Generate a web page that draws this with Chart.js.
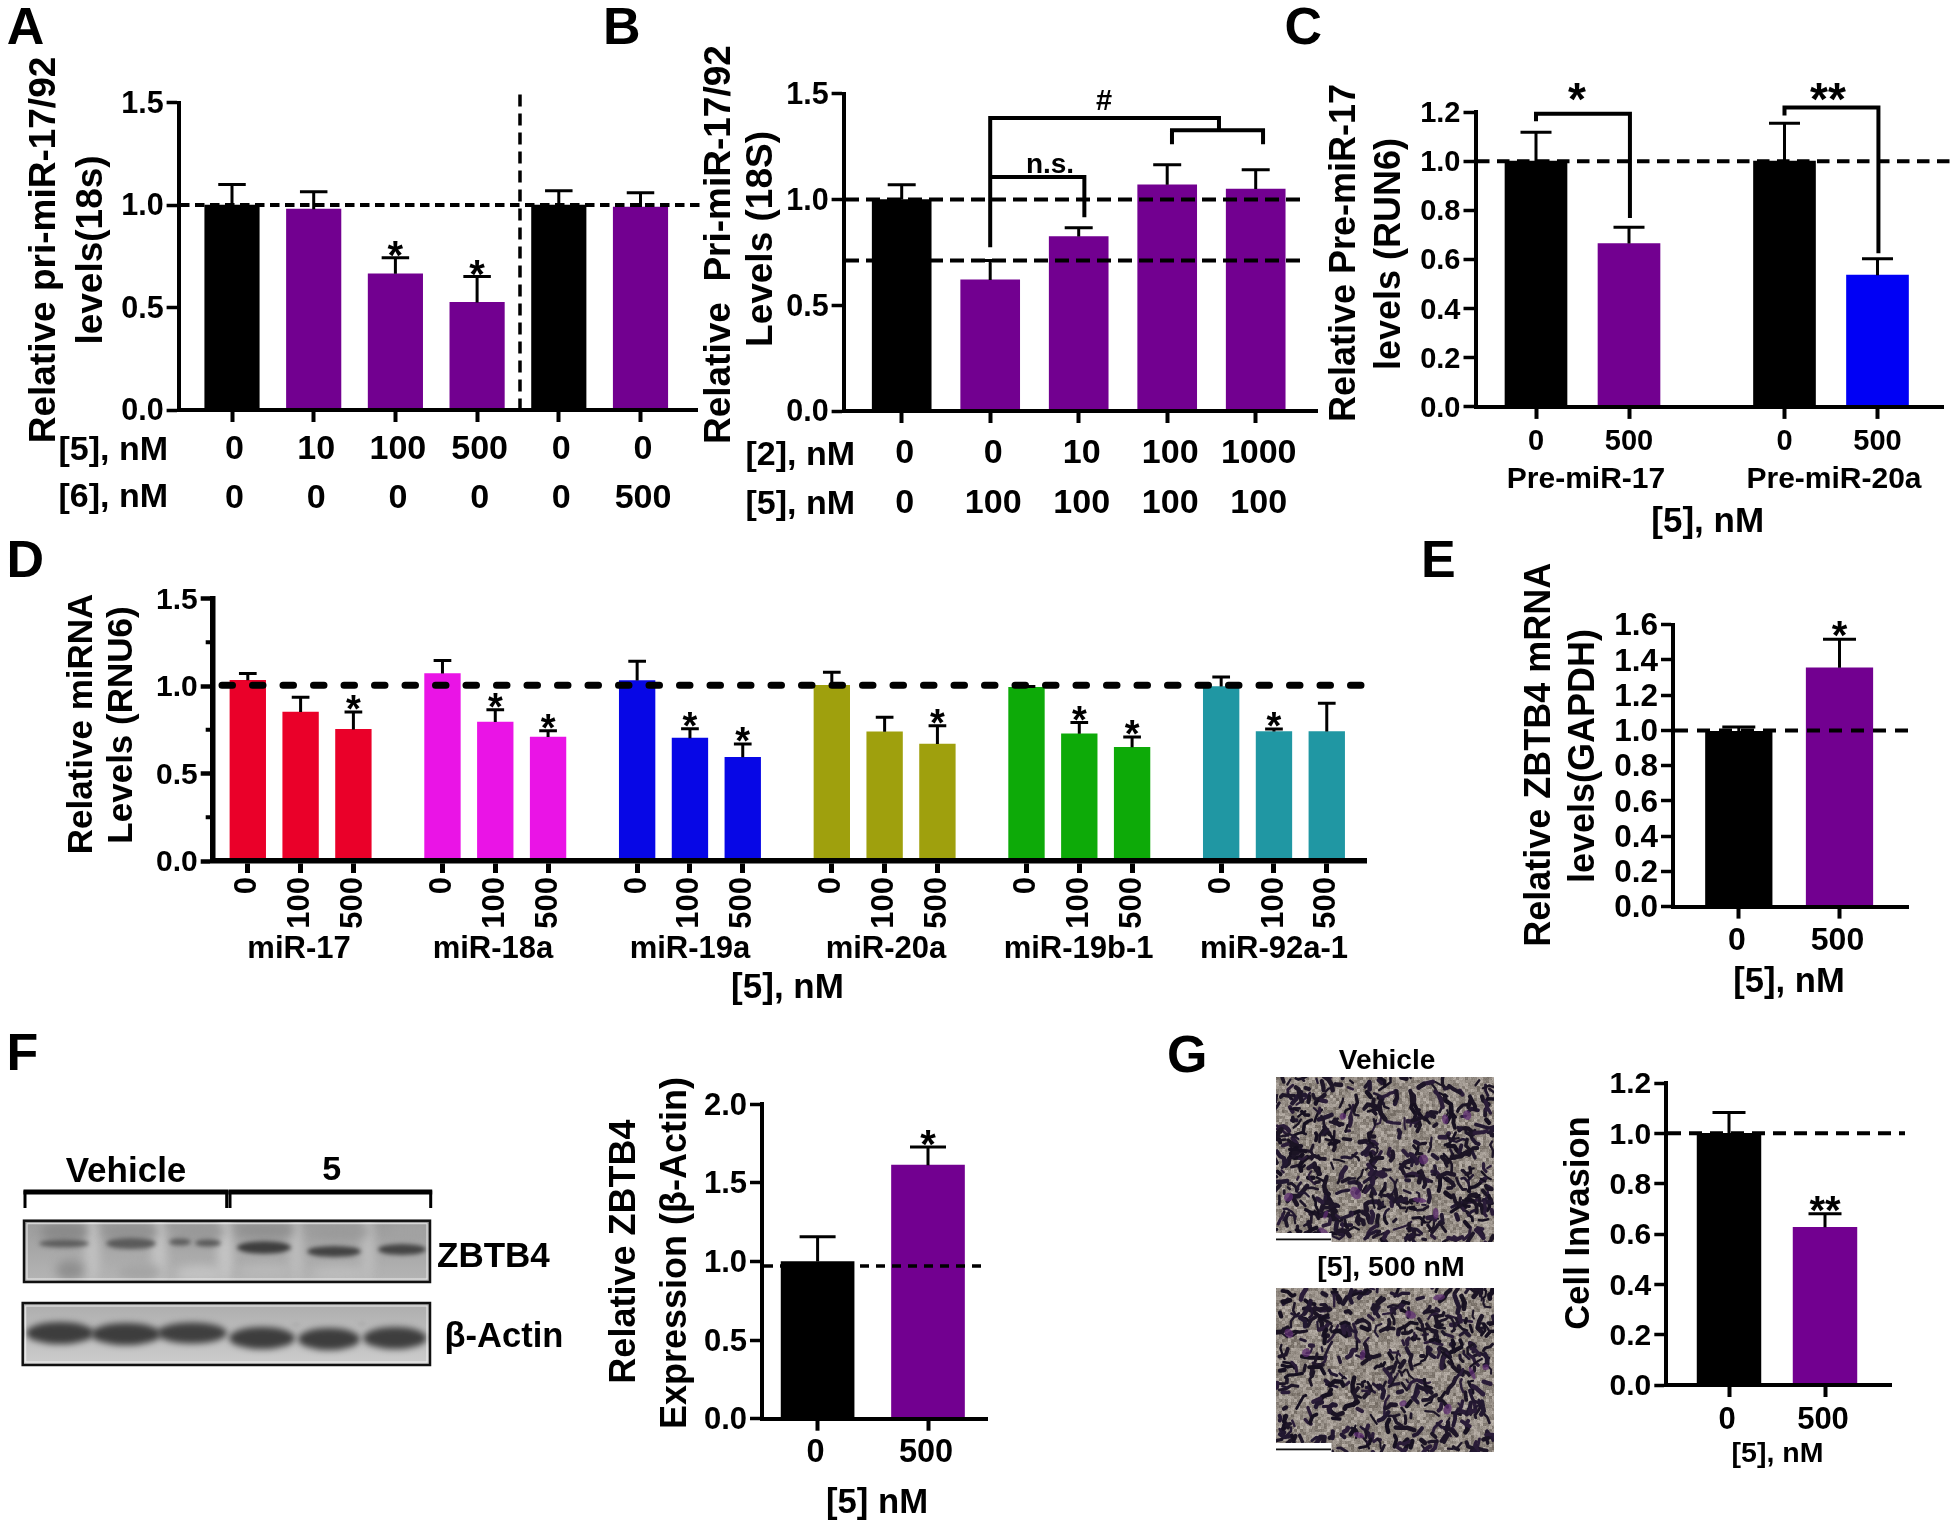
<!DOCTYPE html>
<html><head><meta charset="utf-8">
<style>
html,body{margin:0;padding:0;background:#fff;width:1950px;height:1527px;overflow:hidden}
canvas{position:absolute;left:0;top:0}
</style>
<script src="https://cdn.jsdelivr.net/npm/chart.js@4"></script>
</head><body>
<canvas id="art" width="1950" height="1527"></canvas>
<script>
/* ---------- data ---------- */
const aRow5 = ['0','10','100','500','0','0'];
const aRow6 = ['0','0','0','0','0','500'];
const aValues = [1.0,0.98,0.665,0.525,1.0,0.99];
const aErrors = [1.10,1.065,0.743,0.652,1.07,1.06];

const bRow2 = ['0','0','10','100','1000'];
const bRow5 = ['0','100','100','100','100'];
const bValues = [1.0,0.62,0.825,1.07,1.05];
const bErrors = [1.07,0.712,0.867,1.164,1.141];

const cLabels = ['0','500','0','500'];
const cGroups = ['Pre-miR-17','Pre-miR-20a'];
const cValues = [1.0,0.665,1.0,0.536];
const cErrors = [1.118,0.731,1.154,0.603];

const dLabels = ['0','100','500','0','100','500','0','100','500','0','100','500','0','100','500','0','100','500'];
const dGroups = ['miR-17','miR-18a','miR-19a','miR-20a','miR-19b-1','miR-92a-1'];
const dValues = [1.033,0.851,0.752, 1.071,0.794,0.708, 1.031,0.702,0.593, 1.004,0.738,0.668, 0.993,0.727,0.650, 0.997,0.740,0.740];
const dErrors = [1.071,0.936,0.851, 1.146,0.865,0.744, 1.142,0.756,0.668, 1.079,0.821,0.773, 0.997,0.792,0.708, 1.052,0.754,0.901];
const dMinorTicks = [0.25,0.75,1.25];

const eLabels = ['0','500'];
const eValues = [0.995,1.355];
const eErrors = [1.02,1.518];

const fLabels = ['0','500'];
const fValues = [1.0,1.613];
const fErrors = [1.157,1.728];

const gLabels = ['0','500'];
const gValues = [1.0,0.627];
const gErrors = [1.083,0.68];

/* ---------- styling ---------- */
const PURPLE='#720090', BLACK='#000000', BLUE='#0000F5';
const FONT='"Liberation Sans", Arial, sans-serif';
Chart.defaults.font.family=FONT;
Chart.defaults.color='#000';
const PAGE_W=1950, PAGE_H=1527;

/* overlay plugin: error bars, dashed reference lines, brackets, marks, free text */
const overlay={
  id:'overlay',
  afterDraw(chart,args,o){
    const ctx=chart.ctx, X=chart.scales.x, Y=chart.scales.y;
    ctx.save();
    ctx.lineCap='butt'; ctx.strokeStyle='#000'; ctx.fillStyle='#000';
    // minor ticks
    if(o.minor){
      ctx.lineWidth=o.minor.w;
      o.minor.values.forEach(v=>{
        const py=Y.getPixelForValue(v);
        ctx.beginPath(); ctx.moveTo(X.left-o.minor.len,py); ctx.lineTo(X.left,py); ctx.stroke();
      });
    }
    // reference lines
    (o.dashes||[]).forEach(d=>{
      ctx.save();
      ctx.lineWidth=d.w; ctx.setLineDash(d.dash); ctx.lineCap=d.cap||'butt';
      ctx.beginPath();
      if(d.vx!==undefined){
        const px=X.getPixelForValue(d.vx);
        ctx.moveTo(px,Y.getPixelForValue(d.from)); ctx.lineTo(px,Y.getPixelForValue(d.to));
      }else{
        const py=Y.getPixelForValue(d.y);
        ctx.moveTo(d.x0,py); ctx.lineTo(d.x1,py);
      }
      ctx.stroke(); ctx.restore();
    });
    // error bars
    const e=o.errors;
    if(e){
      ctx.lineWidth=e.w;
      e.tops.forEach((t,i)=>{
        const px=X.getPixelForValue(e.xs[i]);
        ctx.beginPath();
        ctx.moveTo(px,Y.getPixelForValue(e.vals[i])); ctx.lineTo(px,Y.getPixelForValue(t));
        ctx.moveTo(px-e.cap/2,Y.getPixelForValue(t)); ctx.lineTo(px+e.cap/2,Y.getPixelForValue(t));
        ctx.stroke();
      });
    }
    // brackets
    (o.brackets||[]).forEach(b=>{
      ctx.lineWidth=o.bracketW||4; ctx.lineJoin='miter';
      ctx.beginPath();
      b.forEach((p,i)=>{
        const px=X.getPixelForValue(p[0]),py=Y.getPixelForValue(p[1]);
        i?ctx.lineTo(px,py):ctx.moveTo(px,py);
      });
      ctx.stroke();
    });
    // significance stars over error bars
    const s=o.stars;
    if(s){
      s.items.forEach(it=>{
        const px=X.getPixelForValue(e.xs[it[0]]), py=Y.getPixelForValue(e.tops[it[0]])-s.gap;
        ctx.font='bold '+s.size+'px '+FONT; ctx.textAlign='center'; ctx.textBaseline='alphabetic';
        ctx.fillText(it[1],px,py+0.56*s.size);
      });
    }
    // marks positioned in data units
    (o.marks||[]).forEach(m=>{
      const px=X.getPixelForValue(m.x), py=Y.getPixelForValue(m.y);
      ctx.font=(m.weight||'bold')+' '+m.size+'px '+FONT; ctx.textAlign='center';
      if(m.star){ctx.textBaseline='alphabetic'; ctx.fillText(m.text,px,py+0.56*m.size);}
      else{ctx.textBaseline='middle'; ctx.fillText(m.text,px,py);}
    });
    // free text
    (o.texts||[]).forEach(t=>{
      ctx.save();
      ctx.font='bold '+t.size+'px '+FONT; ctx.textBaseline='middle';
      ctx.textAlign=t.align||'center';
      ctx.translate(t.x,t.y);
      if(t.rot) ctx.rotate(-Math.PI/2);
      ctx.fillText(t.text,0,0);
      ctx.restore();
    });
    ctx.restore();
  }
};

function panel(p){
  const cv=document.createElement('canvas');
  cv.width=PAGE_W; cv.height=PAGE_H;
  cv.style.pointerEvents='none';
  document.body.appendChild(cv);
  const xs=p.xs;
  const xMin=(p.box.left-p.first)/p.step, xMax=(p.box.right-p.first)/p.step;
  new Chart(cv,{
    type:'bar',
    data:{datasets:[{
      data:p.values.map((v,i)=>({x:xs[i],y:v})),
      backgroundColor:p.colors,
      borderWidth:0,
      barThickness:p.barW,
      clip:false
    }]},
    options:{
      responsive:false,animation:false,
      events:[],
      layout:{autoPadding:false,padding:{left:0,top:p.box.top,right:PAGE_W-p.box.right,bottom:0}},
      plugins:{legend:{display:false},tooltip:{enabled:false},
        overlay:{
          errors:{xs,vals:p.values,tops:p.errors,w:p.errW,cap:p.cap},
          minor:p.minor,
          dashes:p.dashes,brackets:p.brackets,bracketW:p.bracketW,stars:p.stars,marks:p.marks,texts:p.texts
        }},
      scales:{
        x:{type:'linear',position:'bottom',min:xMin,max:xMax,offset:false,
          afterFit(s){s.height=PAGE_H-p.box.bottom;},
          afterBuildTicks(s){s.ticks=xs.map(v=>({value:v}));},
          border:{display:true,color:'#000',width:p.axisX||4,z:1},
          grid:{drawOnChartArea:false,drawTicks:true,tickLength:12,tickWidth:p.tickW||4,tickColor:'#000',offset:false},
          ticks:{autoSkip:false,minRotation:p.xRot||0,maxRotation:p.xRot||0,padding:p.xPad,labelOffset:p.xShift||0,color:'#000',
            font:{size:p.xSize,weight:'bold',lineHeight:p.xLine||1.2},
            callback:(v,i)=>p.tickLabels(i)}
        },
        y:{type:'linear',position:'left',min:0,max:p.ymax,
          afterFit(s){s.width=p.box.left;},
          border:{display:true,color:'#000',width:p.axisY||4,z:1},
          grid:{drawOnChartArea:false,drawTicks:true,tickLength:12,tickWidth:p.ytickW||3.5,tickColor:'#000'},
          ticks:{stepSize:p.ystep,autoSkip:false,padding:3,labelOffset:2,color:'#000',font:{size:p.ySize,weight:'bold'},
            callback:v=>Number(v).toFixed(1)}
        }
      }
    },
    plugins:[overlay]
  });
}

/* ---------- Panel A ---------- */
panel({
  box:{left:178.6,top:102.6,right:697,bottom:410},
  xs:[0,1,2,3,4,5],first:232,step:81.7,barW:54.5,
  values:aValues,errors:aErrors,errW:3,cap:27.5,
  colors:[BLACK,PURPLE,PURPLE,PURPLE,BLACK,PURPLE],
  ymax:1.5,ystep:0.5,ySize:30.5,xSize:34,xLine:49/34,xPad:3,xShift:2.5,
  tickLabels:i=>[aRow5[i],aRow6[i]],
  dashes:[
    {y:1,x0:180,x1:700,w:4,dash:[9.5,5.5]},
    {vx:3.525,from:1.54,to:0,w:3.5,dash:[12,7]}
  ],
  stars:{items:[[2,'*'],[3,'*']],gap:11,size:40},
  texts:[
    {text:'Relative pri-miR-17/92',x:44.6,y:250,size:37,rot:true},
    {text:'levels(18s)',x:91.5,y:250,size:37,rot:true},
    {text:'[5], nM',x:168,y:451,size:34,align:'right'},
    {text:'[6], nM',x:168,y:498,size:34,align:'right'}
  ]
});

/* ---------- Panel B ---------- */
panel({
  box:{left:843.6,top:93.8,right:1317,bottom:411},
  xs:[0,1,2,3,4],first:901.7,step:88.5,barW:59,
  values:bValues,errors:bErrors,errW:3,cap:28,
  colors:[BLACK,PURPLE,PURPLE,PURPLE,PURPLE],
  ymax:1.5,ystep:0.5,ySize:30.5,xSize:34,xLine:50/34,xPad:6,xShift:3,
  tickLabels:i=>[bRow2[i],bRow5[i]],
  dashes:[
    {y:1,x0:845,x1:1305,w:4,dash:[14,7]},
    {y:0.712,x0:845,x1:1305,w:4,dash:[14,7]}
  ],
  brackets:[
    [[1,0.774],[1,1.385],[3.585,1.385],[3.585,1.325]],
    [[3.054,1.262],[3.054,1.328],[4.083,1.328],[4.083,1.262]],
    [[1,1.107],[2.064,1.107],[2.064,0.916]]
  ],
  marks:[
    {text:'#',x:2.286,y:1.459,size:29},
    {text:'n.s.',x:1.676,y:1.161,size:28}
  ],
  texts:[
    {text:'Relative  Pri-miR-17/92',x:720,y:244.6,size:37,rot:true},
    {text:'Levels (18S)',x:761.5,y:239,size:37,rot:true},
    {text:'[2], nM',x:855,y:456,size:34,align:'right'},
    {text:'[5], nM',x:855,y:505,size:34,align:'right'}
  ]
});

/* ---------- Panel C ---------- */
panel({
  box:{left:1475.5,top:112,right:1943,bottom:406.9},
  xs:[0,1,2.672,3.672],first:1536,step:93,barW:62,
  values:cValues,errors:cErrors,errW:3,cap:31,
  colors:[BLACK,PURPLE,BLACK,BLUE],
  ymax:1.2,ystep:0.2,ySize:29,xSize:29,xPad:6,
  tickLabels:i=>cLabels[i],
  dashes:[{y:1,x0:1477,x1:1950,w:4,dash:[12.5,7.5]}],
  brackets:[
    [[0,1.162],[0,1.193],[1.01,1.193],[1.01,0.769]],
    [[2.672,1.186],[2.672,1.218],[3.682,1.218],[3.682,0.625]]
  ],
  marks:[
    {text:'*',x:0.44,y:1.292,size:46,star:true},
    {text:'**',x:3.14,y:1.292,size:46,star:true}
  ],
  texts:[
    {text:'Relative Pre-miR-17',x:1345,y:253,size:36,rot:true},
    {text:'levels (RUN6)',x:1390,y:254,size:36,rot:true},
    {text:cGroups[0],x:1586,y:480,size:30},
    {text:cGroups[1],x:1834,y:480,size:30},
    {text:'[5], nM',x:1707.7,y:522.5,size:35}
  ]
});

/* ---------- Panel D ---------- */
const dXs=dLabels.map((_,i)=>Math.floor(i/3)*3.687+(i%3));
panel({
  box:{left:212.7,top:598.5,right:1366,bottom:861},
  xs:dXs,first:247.8,step:52.8,barW:35.7,
  values:dValues,errors:dErrors,errW:3,cap:17.7,
  colors:['#EA0029','#EA0029','#EA0029','#EA14E6','#EA14E6','#EA14E6','#0707E6','#0707E6','#0707E6','#9FA00D','#9FA00D','#9FA00D','#0DAA08','#0DAA08','#0DAA08','#2097A3','#2097A3','#2097A3'],
  ymax:1.5,ystep:0.5,ySize:30,xSize:31,xRot:90,xPad:4,axisX:5.5,axisY:5.5,tickW:5,ytickW:4.5,
  tickLabels:i=>dLabels[i],
  minor:{values:dMinorTicks,len:7,w:4},
  dashes:[{y:1.004,x0:222,x1:1361,w:7,dash:[10.5,20],cap:'round'}],
  stars:{items:[[2,'*'],[4,'*'],[5,'*'],[7,'*'],[8,'*'],[11,'*'],[13,'*'],[14,'*'],[16,'*']],gap:11,size:38},
  texts:[
    {text:'Relative miRNA',x:82,y:724,size:35,rot:true},
    {text:'Levels (RNU6)',x:122.3,y:725,size:35,rot:true},
    {text:dGroups[0],x:299,y:949,size:31},
    {text:dGroups[1],x:493,y:949,size:31},
    {text:dGroups[2],x:690,y:949,size:31},
    {text:dGroups[3],x:886,y:949,size:31},
    {text:dGroups[4],x:1078.6,y:949,size:31},
    {text:dGroups[5],x:1274,y:949,size:31},
    {text:'[5], nM',x:787.5,y:988.5,size:35}
  ]
});

/* ---------- Panel E ---------- */
panel({
  box:{left:1673,top:624.7,right:1908.6,bottom:906.6},
  xs:[0,1],first:1738.8,step:100.7,barW:66.6,
  values:eValues,errors:eErrors,errW:3,cap:33,
  colors:[BLACK,PURPLE],
  ymax:1.6,ystep:0.2,ySize:31.5,xSize:32,xPad:3,xShift:-2,
  tickLabels:i=>eLabels[i],
  dashes:[{y:1,x0:1675,x1:1910,w:4,dash:[13,9]}],
  stars:{items:[[1,'*']],gap:13,size:40},
  texts:[
    {text:'Relative ZBTB4 mRNA',x:1539.6,y:754.8,size:36,rot:true},
    {text:'levels(GAPDH)',x:1584,y:756,size:36,rot:true},
    {text:'[5], nM',x:1789,y:982,size:34.6}
  ]
});

/* ---------- Panel F ---------- */
panel({
  box:{left:762,top:1104.3,right:987,bottom:1418.7},
  xs:[0,1],first:817.6,step:110.4,barW:73,
  values:fValues,errors:fErrors,errW:3,cap:36,
  colors:[BLACK,PURPLE],
  ymax:2,ystep:0.5,ySize:31,xSize:32.5,xPad:3,xShift:-2,
  tickLabels:i=>fLabels[i],
  dashes:[{y:0.972,x0:764,x1:985,w:3.5,dash:[9,7]}],
  stars:{items:[[1,'*']],gap:11,size:40},
  texts:[
    {text:'Relative ZBTB4',x:625,y:1251.6,size:36,rot:true},
    {text:'Expression (β-Actin)',x:676,y:1253,size:36,rot:true},
    {text:'[5] nM',x:877,y:1503,size:34.7}
  ]
});

/* ---------- Panel G ---------- */
panel({
  box:{left:1666.3,top:1083,right:1891,bottom:1385},
  xs:[0,1],first:1729,step:96,barW:63.8,
  values:gValues,errors:gErrors,errW:3,cap:33,
  colors:[BLACK,PURPLE],
  ymax:1.2,ystep:0.2,ySize:30,xSize:31,xPad:5,xShift:-2,
  tickLabels:i=>gLabels[i],
  dashes:[{y:1,x0:1668,x1:1905,w:4,dash:[13,8]}],
  stars:{items:[[1,'**']],gap:12.3,size:40},
  texts:[
    {text:'Cell Invasion',x:1579.6,y:1223,size:34.6,rot:true},
    {text:'[5], nM',x:1777.5,y:1454,size:28.5}
  ]
});

/* ---------- non-chart artwork: panel letters, blots, micrographs ---------- */
const art=document.getElementById('art').getContext('2d');
art.fillStyle='#fff'; art.fillRect(0,0,PAGE_W,PAGE_H);

function label(t,x,y,size,align){
  art.fillStyle='#000';
  art.font='bold '+size+'px '+FONT;
  art.textAlign=align||'center';
  art.textBaseline='middle';
  art.fillText(t,x,y);
}
[['A',6.7,44],['B',603,44],['C',1284.5,44],['D',6.5,577],['E',1421,577],['F',6.5,1070],['G',1167,1072]].forEach(l=>{
  art.fillStyle='#000'; art.font='bold 52px '+FONT; art.textAlign='left'; art.textBaseline='alphabetic';
  art.fillText(l[0],l[1],l[2]);
});

/* western blot: soft shapes on a grey ground */
function blot(x,y,w,h,bgTop,bgBot,layers){
  art.save();
  art.beginPath(); art.rect(x,y,w,h); art.clip();
  const g=art.createLinearGradient(0,y,0,y+h);
  g.addColorStop(0,bgTop); g.addColorStop(1,bgBot);
  art.fillStyle=g; art.fillRect(x,y,w,h);
  layers.forEach(l=>{
    art.filter='blur('+l.blur+'px)';
    l.shapes.forEach(b=>{
      art.fillStyle=b[4];
      art.beginPath(); art.ellipse(b[0],b[1],b[2],b[3],0,0,Math.PI*2); art.fill();
    });
  });
  art.filter='none';
  art.strokeStyle='rgba(255,255,255,.75)'; art.lineWidth=1;
  art.strokeRect(x+3,y+3,w-6,h-6);
  art.restore();
  art.strokeStyle='#111'; art.lineWidth=2.5; art.strokeRect(x,y,w,h);
}
blot(24,1220.7,406,61.3,'#9b9b9b','#b5b5b5',[
  {blur:5,shapes:[
    [92,1250,8,34,'#c0c0c0'],[159,1250,8,34,'#c2c2c2'],[225,1250,8,34,'#c4c4c4'],[296,1250,7,34,'#bcbcbc'],[368,1250,7,34,'#bcbcbc'],
    [64,1232,24,10,'#8a8a8a'],[131,1232,28,9,'#929292'],[200,1232,26,7,'#989898'],[265,1230,30,8,'#909090'],[340,1232,30,7,'#9a9a9a'],[410,1232,20,7,'#a2a2a2'],
    [70,1270,14,10,'#8f8f8f'],[140,1272,22,8,'#a4a4a4'],[265,1272,26,7,'#b8b8b8'],[340,1274,28,7,'#bcbcbc'],[200,1274,24,8,'#c2c2c2']
  ]},
  {blur:2,shapes:[
    [64,1243.5,25,3.8,'#5c5c5c'],[131,1243.5,25,5.5,'#5a5a5a'],[180,1242,11,3.4,'#5c5c5c'],[208,1243,13,3.6,'#585858'],
    [264,1247.5,27,6.2,'#3e3e3e'],[334,1251.5,27,5.5,'#434343'],[402,1249.5,24,5.5,'#454545']
  ]}
]);
blot(22.7,1303,407.3,62,'#adadad','#cdcdcd',[
  {blur:3,shapes:[
    [60,1333,34,11,'#3d3d3d'],[126,1334,35,11,'#3d3d3d'],[192,1333,35,10.5,'#3f3f3f'],
    [262,1338,33,11,'#3d3d3d'],[329,1339,31,11,'#3d3d3d'],[395,1338,32,11,'#3e3e3e']
  ]},
  {blur:1.5,shapes:[[296,1325,5,3,'#b0b0b0'],[362,1324,5,3,'#b0b0b0']]}
]);
art.strokeStyle='#000'; art.lineWidth=3;
[[25,226.7],[230,430.7]].forEach(r=>{
  art.beginPath(); art.moveTo(r[0],1208); art.lineTo(r[0],1192); art.lineTo(r[1],1192); art.lineTo(r[1],1208); art.stroke();
  art.fillStyle='#000'; art.fillRect(r[0]-1.5,1189.5,r[1]-r[0]+3,5);
});
label('Vehicle',126,1172,35);
label('5',331.6,1171,34);
label('ZBTB4',437,1257,35,'left');
label('β-Actin',444.5,1337,34.5,'left');

/* micrograph-style texture from a fixed deterministic sequence */
function micrograph(x,y,w,h,seed,count){
  let s=seed;
  const next=()=>{s=(s*1664525+1013904223)>>>0; return s/4294967296;};
  const layer=document.createElement('canvas'); layer.width=w; layer.height=h;
  const c=layer.getContext('2d');
  const img=c.createImageData(w,h);
  const cell=3, cw=Math.ceil(w/cell)+1, vals=[];
  for(let i=0;i<cw*(Math.ceil(h/cell)+1);i++) vals.push((next()-0.5)*62);
  for(let j=0;j<h;j++)for(let i=0;i<w;i++){
    const k=(j*w+i)*4, n=vals[Math.floor(j/cell)*cw+Math.floor(i/cell)]+(next()-0.5)*24;
    img.data[k]=150+n; img.data[k+1]=142+n; img.data[k+2]=134+n; img.data[k+3]=255;
  }
  c.putImageData(img,0,0);
  const tones=['#1b1424','#221830','#161020','#2a1c38','#1e1628'];
  c.lineCap='round'; c.lineJoin='round';
  for(let i=0;i<count;i++){
    c.strokeStyle=tones[Math.floor(next()*tones.length)];
    c.lineWidth=2+next()*2.8;
    let px=next()*w, py=next()*h, ang=next()*Math.PI*2;
    c.beginPath(); c.moveTo(px,py);
    const segs=1+Math.floor(next()*3);
    for(let k=0;k<segs;k++){
      ang+=(next()-0.5)*2.2;
      const len=2.5+next()*5;
      px+=Math.cos(ang)*len; py+=Math.sin(ang)*len;
      c.lineTo(px,py);
    }
    c.stroke();
  }
  for(let i=0;i<10;i++){
    c.fillStyle='rgba(92,44,112,.75)';
    c.beginPath(); c.ellipse(next()*w,next()*h,3+next()*4,2+next()*3,next()*3,0,Math.PI*2); c.fill();
  }
  art.save();
  art.beginPath(); art.rect(x,y,w,h); art.clip();
  art.filter='blur(0.7px)';
  art.drawImage(layer,x,y);
  art.filter='none';
  art.fillStyle='#fff'; art.fillRect(x,y+h-9,55.5,9);
  art.fillStyle='#111'; art.fillRect(x,y+h-3.5,55,1.8);
  art.restore();
}
micrograph(1276,1077,218,165,12345,470);
micrograph(1276,1288,218,164,98765,400);
label('Vehicle',1387,1061.7,28);
label('[5], 500 nM',1391,1268,28.5);
</script>
</body></html>
